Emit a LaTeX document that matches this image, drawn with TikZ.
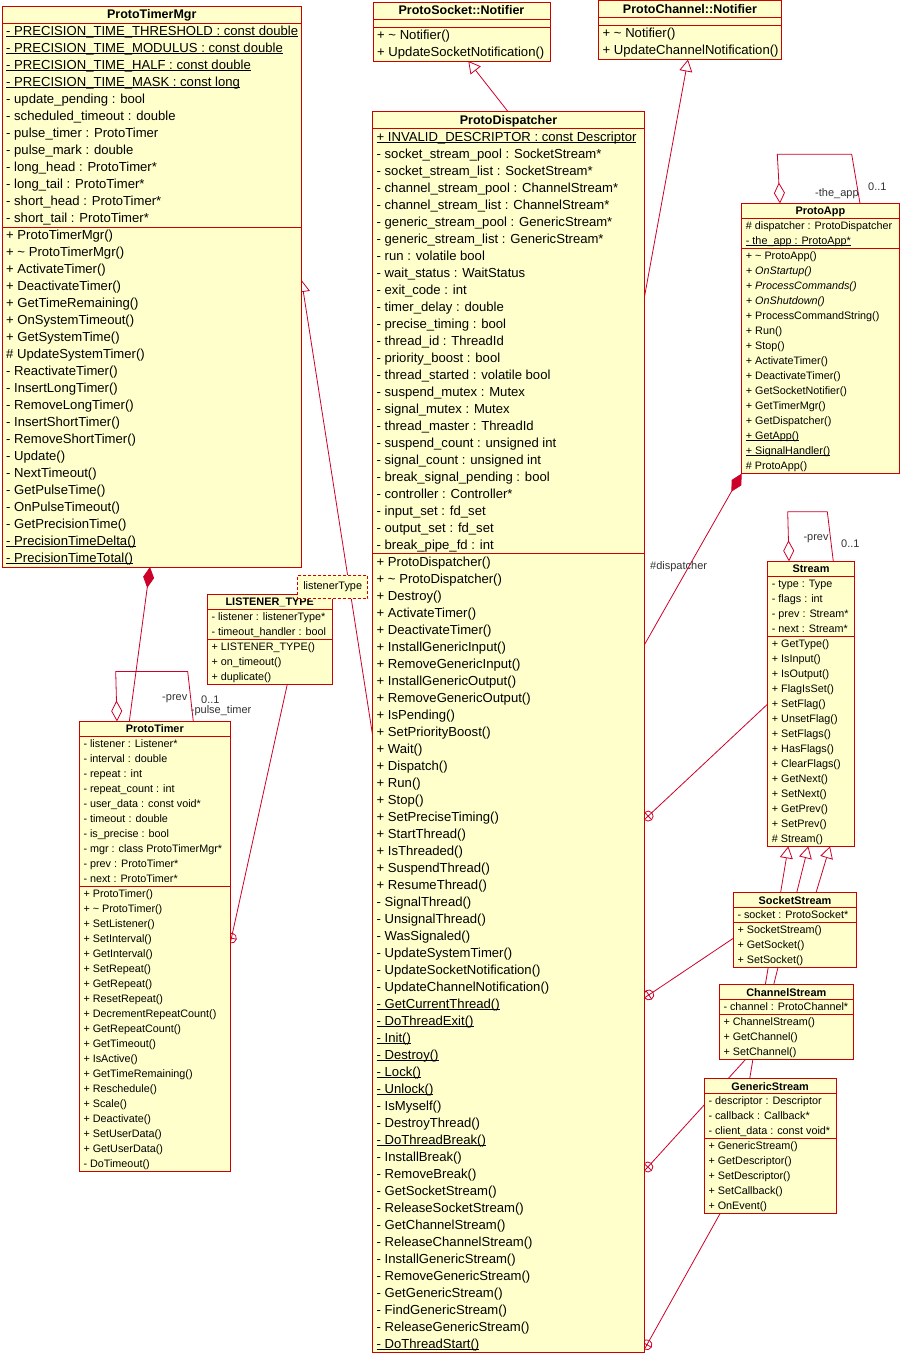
\documentclass[tikz,border=0pt]{standalone}
\usepackage{fontspec}
\setmainfont{Liberation Sans}
\usetikzlibrary{arrows.meta,calc,decorations.markings}
\pgfdeclarelayer{bg}
\pgfsetlayers{bg,main}

\definecolor{umlred}{RGB}{204,0,0}
\definecolor{lncolor}{RGB}{204,0,40}
\definecolor{umlfill}{RGB}{255,255,204}
\definecolor{lblgray}{RGB}{51,51,51}

% static members are underlined just below the baseline
\newsavebox\undlbox
\newcommand\undl[1]{\sbox\undlbox{#1}\rlap{\rule[-1.6pt]{\wd\undlbox}{0.8pt}}\usebox\undlbox}
\newcommand\squig{\textasciitilde}

\tikzset{
  classframe/.style={draw=umlred, fill=umlfill, line width=0.9pt, inner sep=0pt, outer sep=0pt, anchor=north west, rectangle},
  classline/.style={draw=umlred, line width=0.9pt},
  big title/.style={anchor=base, inner sep=0pt, font=\bfseries\fontsize{12.5}{15}\selectfont},
  small title/.style={anchor=base, inner sep=0pt, font=\bfseries\fontsize{10.9}{13}\selectfont},
  big row/.style={anchor=base west, inner sep=0pt, font=\fontsize{13.1}{15}\selectfont},
  small row/.style={anchor=base west, inner sep=0pt, font=\fontsize{10.8}{13}\selectfont},
  umlline/.style={draw=lncolor, line width=0.8pt},
  generalize/.style={umlline, -{Triangle[open,length=12pt,width=13pt]}},
  aggregate/.style={umlline, -{Diamond[open,length=21pt,width=11pt]}},
  compose/.style={umlline, -{Diamond[length=21pt,width=11pt]}},
  nestlink/.style={umlline, postaction={decorate}, decoration={markings,
      mark=at position 1 with {\draw[umlline, fill=white] (-5pt,0pt) circle (5pt);
        \draw[umlline] (-10pt,0pt) -- (0pt,0pt) (-5pt,-5pt) -- (-5pt,5pt);}}},
  rolelabel/.style={inner sep=0pt, text=lblgray, font=\fontsize{11}{13}\selectfont},
  tparam/.style={draw=umlred, dash pattern=on 3pt off 2pt, fill=umlfill, line width=0.8pt,
      inner sep=0pt, anchor=north west, minimum width=70pt, minimum height=23.6pt,
      font=\fontsize{10.9}{13}\selectfont},
}

% A class box: #1 name, #2 left, #3 top, #4 width, #5 row height,
% #6 attribute compartment height, #7 number of operations, #8 size (big/small).
% Title, attributes and operations come from \ClassTitle, \ClassAttrs, \ClassOps.
\newcommand\ClassBox[8]{%
  \pgfmathsetmacro\secA{#3+#5}%
  \pgfmathsetmacro\secB{\secA+#6}%
  \pgfmathsetmacro\boxH{#5+#6+#7*#5}%
  \node[classframe, minimum width=#4pt, minimum height=\boxH pt] (#1) at (#2,#3) {};
  \draw[classline] (#2,\secA) -- ++(#4,0);
  \draw[classline] (#2,\secB) -- ++(#4,0);
  \node[#8 title] (#1-t) at ({#2+#4/2},{#3+0.76*#5}) {\ClassTitle};
  \ifx\ClassAttrs\empty\else
    \foreach \lbl [count=\i] in \ClassAttrs {\node[#8 row] (#1-a\i) at ({#2+4},{\secA+(\i-0.27)*#5}) {\lbl};}
  \fi
  \foreach \lbl [count=\i] in \ClassOps {\node[#8 row] (#1-o\i) at ({#2+4},{\secB+(\i-0.27)*#5}) {\lbl};}
}

\begin{document}
\begin{tikzpicture}[x=1pt,y=-1pt]
\useasboundingbox (0,0) rectangle (900,1353);

% ---------------- ProtoTimerMgr
\def\ClassTitle{ProtoTimerMgr}
\def\ClassAttrs{\undl{- PRECISION\_TIME\_THRESHOLD : const double},
  \undl{- PRECISION\_TIME\_MODULUS : const double},
  \undl{- PRECISION\_TIME\_HALF : const double},
  \undl{- PRECISION\_TIME\_MASK : const long},
  - update\_pending : bool, - scheduled\_timeout : double, - pulse\_timer : ProtoTimer,
  - pulse\_mark : double, - long\_head : ProtoTimer*, - long\_tail : ProtoTimer*,
  - short\_head : ProtoTimer*, - short\_tail : ProtoTimer*}
\def\ClassOps{+ ProtoTimerMgr(), + \squig{} ProtoTimerMgr(), + ActivateTimer(), + DeactivateTimer(),
  + GetTimeRemaining(), + OnSystemTimeout(), + GetSystemTime(), \# UpdateSystemTimer(),
  - ReactivateTimer(), - InsertLongTimer(), - RemoveLongTimer(), - InsertShortTimer(),
  - RemoveShortTimer(), - Update(), - NextTimeout(), - GetPulseTime(), - OnPulseTimeout(),
  - GetPrecisionTime(), \undl{- PrecisionTimeDelta()}, \undl{- PrecisionTimeTotal()}}
\ClassBox{mgr}{2}{6}{299.5}{17}{204}{20}{big}

% ---------------- ProtoSocket::Notifier
\def\ClassTitle{ProtoSocket::Notifier}
\def\ClassAttrs{}
\def\ClassOps{+ \squig{} Notifier(), + UpdateSocketNotification()}
\ClassBox{sockn}{373}{2}{177}{17}{8}{2}{big}

% ---------------- ProtoChannel::Notifier
\def\ClassTitle{ProtoChannel::Notifier}
\def\ClassAttrs{}
\def\ClassOps{+ \squig{} Notifier(), + UpdateChannelNotification()}
\ClassBox{chann}{598.5}{0.5}{183}{17}{8}{2}{big}

% ---------------- ProtoDispatcher
\def\ClassTitle{ProtoDispatcher}
\def\ClassAttrs{\undl{+ INVALID\_DESCRIPTOR : const Descriptor},
  - socket\_stream\_pool : SocketStream*, - socket\_stream\_list : SocketStream*,
  - channel\_stream\_pool : ChannelStream*, - channel\_stream\_list : ChannelStream*,
  - generic\_stream\_pool : GenericStream*, - generic\_stream\_list : GenericStream*,
  - run : volatile bool, - wait\_status : WaitStatus, - exit\_code : int, - timer\_delay : double,
  - precise\_timing : bool, - thread\_id : ThreadId, - priority\_boost : bool,
  - thread\_started : volatile bool, - suspend\_mutex : Mutex, - signal\_mutex : Mutex,
  - thread\_master : ThreadId, - suspend\_count : unsigned int, - signal\_count : unsigned int,
  - break\_signal\_pending : bool, - controller : Controller*, - input\_set : fd\_set,
  - output\_set : fd\_set, - break\_pipe\_fd : int}
\def\ClassOps{+ ProtoDispatcher(), + \squig{} ProtoDispatcher(), + Destroy(), + ActivateTimer(),
  + DeactivateTimer(), + InstallGenericInput(), + RemoveGenericInput(), + InstallGenericOutput(),
  + RemoveGenericOutput(), + IsPending(), + SetPriorityBoost(), + Wait(), + Dispatch(), + Run(),
  + Stop(), + SetPreciseTiming(), + StartThread(), + IsThreaded(), + SuspendThread(),
  + ResumeThread(), - SignalThread(), - UnsignalThread(), - WasSignaled(), - UpdateSystemTimer(),
  - UpdateSocketNotification(), - UpdateChannelNotification(), \undl{- GetCurrentThread()},
  \undl{- DoThreadExit()}, \undl{- Init()}, \undl{- Destroy()}, \undl{- Lock()}, \undl{- Unlock()},
  - IsMyself(), - DestroyThread(), \undl{- DoThreadBreak()}, - InstallBreak(), - RemoveBreak(),
  - GetSocketStream(), - ReleaseSocketStream(), - GetChannelStream(), - ReleaseChannelStream(),
  - InstallGenericStream(), - RemoveGenericStream(), - GetGenericStream(), - FindGenericStream(),
  - ReleaseGenericStream(), \undl{- DoThreadStart()}}
\ClassBox{disp}{372.5}{111.6}{272}{17}{425}{47}{big}

% ---------------- ProtoApp
\def\ClassTitle{ProtoApp}
\def\ClassAttrs{\# dispatcher : ProtoDispatcher, \undl{- the\_app : ProtoApp*}}
\def\ClassOps{+ \squig{} ProtoApp(), \textit{+ OnStartup()}, \textit{+ ProcessCommands()},
  \textit{+ OnShutdown()}, + ProcessCommandString(), + Run(), + Stop(), + ActivateTimer(),
  + DeactivateTimer(), + GetSocketNotifier(), + GetTimerMgr(), + GetDispatcher(),
  \undl{+ GetApp()}, \undl{+ SignalHandler()}, \# ProtoApp()}
\ClassBox{app}{741.7}{203.5}{157.3}{15}{30}{15}{small}

% ---------------- ProtoTimer
\def\ClassTitle{ProtoTimer}
\def\ClassAttrs{- listener : Listener*, - interval : double, - repeat : int, - repeat\_count : int,
  - user\_data : const void*, - timeout : double, - is\_precise : bool,
  - mgr : class ProtoTimerMgr*, - prev : ProtoTimer*, - next : ProtoTimer*}
\def\ClassOps{+ ProtoTimer(), + \squig{} ProtoTimer(), + SetListener(), + SetInterval(),
  + GetInterval(), + SetRepeat(), + GetRepeat(), + ResetRepeat(), + DecrementRepeatCount(),
  + GetRepeatCount(), + GetTimeout(), + IsActive(), + GetTimeRemaining(), + Reschedule(),
  + Scale(), + Deactivate(), + SetUserData(), + GetUserData(), - DoTimeout()}
\ClassBox{timer}{79.3}{721.5}{151}{15}{150}{19}{small}

% ---------------- LISTENER_TYPE
\def\ClassTitle{LISTENER\_TYPE}
\def\ClassAttrs{- listener : listenerType*, - timeout\_handler : bool}
\def\ClassOps{+ LISTENER\_TYPE(), + on\_timeout(), + duplicate()}
\ClassBox{lsn}{207.3}{594.3}{125}{15}{30}{3}{small}

% ---------------- Stream
\def\ClassTitle{Stream}
\def\ClassAttrs{- type : Type, - flags : int, - prev : Stream*, - next : Stream*}
\def\ClassOps{+ GetType(), + IsInput(), + IsOutput(), + FlagIsSet(), + SetFlag(), + UnsetFlag(),
  + SetFlags(), + HasFlags(), + ClearFlags(), + GetNext(), + SetNext(), + GetPrev(), + SetPrev(),
  \# Stream()}
\ClassBox{stream}{767.7}{561.3}{86.6}{15}{60}{14}{small}

% ---------------- SocketStream
\def\ClassTitle{SocketStream}
\def\ClassAttrs{- socket : ProtoSocket*}
\def\ClassOps{+ SocketStream(), + GetSocket(), + SetSocket()}
\ClassBox{sstream}{733.3}{892.7}{123.4}{15}{15}{3}{small}

% ---------------- ChannelStream
\def\ClassTitle{ChannelStream}
\def\ClassAttrs{- channel : ProtoChannel*}
\def\ClassOps{+ ChannelStream(), + GetChannel(), + SetChannel()}
\ClassBox{cstream}{719.3}{984.7}{134}{15}{15}{3}{small}

% ---------------- GenericStream
\def\ClassTitle{GenericStream}
\def\ClassAttrs{- descriptor : Descriptor, - callback : Callback*, - client\_data : const void*}
\def\ClassOps{+ GenericStream(), + GetDescriptor(), + SetDescriptor(), + SetCallback(), + OnEvent()}
\ClassBox{gstream}{704.3}{1078.7}{131.7}{15}{45}{5}{small}

% template parameter of LISTENER_TYPE
\node[tparam] (ltype) at (297.3,574.7) {listenerType};

% ---------------- connectors, behind the boxes
\begin{pgfonlayer}{bg}
  % inheritance
  \draw[generalize] ($(disp.north west)+(135.5,0)$) -- ($(sockn.south west)+(95.3,0)$);
  \draw[generalize] ($(disp.north east)+(0,185)$) -- ($(chann.south west)+(89.5,0)$);
  \draw[generalize] ($(disp.north west)+(0,623)$) -- ($(mgr.north east)+(0,274)$);
  \draw[generalize] ($(sstream.north west)+(82.7,0)$) -- ($(stream.south west)+(62.3,0)$);
  \draw[generalize] ($(cstream.north west)+(54.4,0)$) -- ($(stream.south west)+(40.6,0)$);
  \draw[generalize] ($(gstream.north west)+(45.4,0)$) -- ($(stream.south west)+(20.6,0)$);
  % composition
  \draw[compose] ($(disp.north east)+(0,533)$) -- (app.south west);
  \draw[compose] ($(timer.north west)+(50,0)$) -- ($(mgr.south west)+(148,0)$);
  % nesting
  \draw[nestlink] ($(stream.north west)+(0,142.7)$) -- ($(disp.north east)+(0,707.9)$);
  \draw[nestlink] ($(sstream.north west)+(0,45.6)$) -- ($(disp.north east)+(0,886.2)$);
  \draw[nestlink] ($(cstream.south west)+(26,0)$) -- ($(disp.north east)+(0,1059.1)$);
  \draw[nestlink] ($(gstream.south west)+(15.7,0)$) -- ($(disp.north east)+(0,1237.5)$);
  \draw[nestlink] ($(lsn.south west)+(80,0)$) -- ($(timer.north east)+(0,221.5)$);
  % self associations
  \draw[aggregate] ($(timer.north west)+(114,0)$) -- ++(-5.6,-50) -- ++(-72,0)
      -- ($(timer.north west)+(37.7,0)$);
  \draw[aggregate] ($(app.north west)+(118.3,0)$) -- ++(-8.3,-49.2) -- ++(-74.4,0)
      -- ($(app.north west)+(38.3,0)$);
  \draw[aggregate] ($(stream.north west)+(65.6,0)$) -- ++(-6,-49.6) -- ++(-39.6,0)
      -- ($(stream.north west)+(21.3,0)$);
\end{pgfonlayer}

% role names and multiplicities
\node[rolelabel, anchor=base east] (tprev) at (187.5,700) {-prev};
\node[rolelabel, anchor=base west] (tmult) at (201,703) {0..1};
\node[rolelabel, anchor=base west] (tpulse) at (190.7,713.5) {-pulse\_timer};
\node[rolelabel, anchor=base west] (aname) at (815,196) {-the\_app};
\node[rolelabel, anchor=base west] (amult) at (868,190) {0..1};
\node[rolelabel, anchor=base west] (sprev) at (803.3,540) {-prev};
\node[rolelabel, anchor=base west] (smult) at (841,547) {0..1};
\node[rolelabel, anchor=base west] (dname) at (650,569) {\#dispatcher};
\end{tikzpicture}
\end{document}
